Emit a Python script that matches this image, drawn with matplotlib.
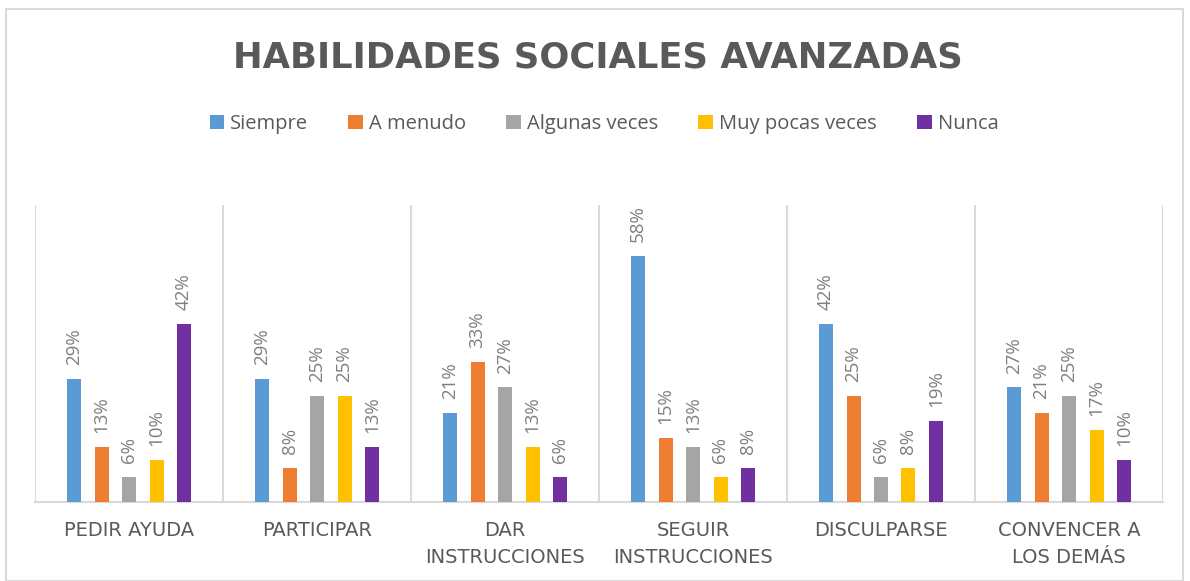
import matplotlib
matplotlib.use("Agg")
import matplotlib.pyplot as plt
import numpy as np
from matplotlib.patches import Rectangle

categories = ["PEDIR AYUDA", "PARTICIPAR", "DAR\nINSTRUCCIONES", "SEGUIR\nINSTRUCCIONES",
              "DISCULPARSE", "CONVENCER A\nLOS DEMÁS"]
series_names = ["Siempre", "A menudo", "Algunas veces", "Muy pocas veces", "Nunca"]
siempre = [29, 29, 21, 58, 42, 27]
a_menudo = [13, 8, 33, 15, 25, 21]
algunas_veces = [6, 25, 27, 13, 6, 25]
muy_pocas_veces = [10, 25, 13, 6, 8, 17]
nunca = [42, 13, 6, 8, 19, 10]
series_values = [siempre, a_menudo, algunas_veces, muy_pocas_veces, nunca]
colors = ["#5B9BD5", "#ED7D31", "#A5A5A5", "#FFC000", "#7030A0"]

plt.rcParams['font.family'] = ['Open Sans', 'DejaVu Sans']
txt = "#595959"

fig = plt.figure(figsize=(11.9, 5.81), dpi=100)
fig.patches.append(Rectangle((6/1190, 0), 1177/1190, 1 - 9/581, transform=fig.transFigure,
                             fill=False, edgecolor="#D9D9D9", linewidth=1.5))
ax = fig.add_axes([35/1190, 1 - 502/581, 1128/1190, 297/581])

x = np.arange(len(categories))
step = 27.5 / 188
width = 14 / 188
handles = []
for i, (name, vals, c) in enumerate(zip(series_names, series_values, colors)):
    pos = x + (i - 2) * step
    b = ax.bar(pos, vals, width=width, color=c, label=name, zorder=3)
    handles.append(b)
    for p, v in zip(pos, vals):
        ax.annotate(f"{v}%", (p, v), xytext=(0, 10), textcoords="offset points",
                    rotation=90, ha="center", va="bottom", fontsize=13.5, color="#7F7F7F")

ax.set_xlim(-0.5, len(categories) - 0.5)
ax.set_ylim(0, 70)
ax.set_yticks([])
for b in np.arange(-0.5, len(categories), 1.0):
    ax.axvline(b, color="#D9D9D9", linewidth=1.5, zorder=1)
for s in ["top", "left", "right"]:
    ax.spines[s].set_visible(False)
ax.spines["bottom"].set_color("#D9D9D9")
ax.spines["bottom"].set_linewidth(1.5)
ax.set_xticks(x)
ax.set_xticklabels(categories, fontsize=14, color=txt, linespacing=1.5,
                   family=['DejaVu Sans'])
ax.tick_params(axis="x", length=0, pad=14)

fig.text(598/1190, 1 - 57/581, "HABILIDADES SOCIALES AVANZADAS", ha="center", va="center",
         fontsize=25.5, fontweight="bold", color=txt, family=['DejaVu Sans'])
fig.legend(handles=handles, labels=series_names, loc="center", bbox_to_anchor=(604/1190, 1 - 124/581),
           ncol=5, frameon=False, fontsize=14.5, labelcolor=txt, handlelength=0.72, handleheight=0.72,
           handletextpad=0.3, columnspacing=2.0)

fig.savefig("out.png", dpi=100)
